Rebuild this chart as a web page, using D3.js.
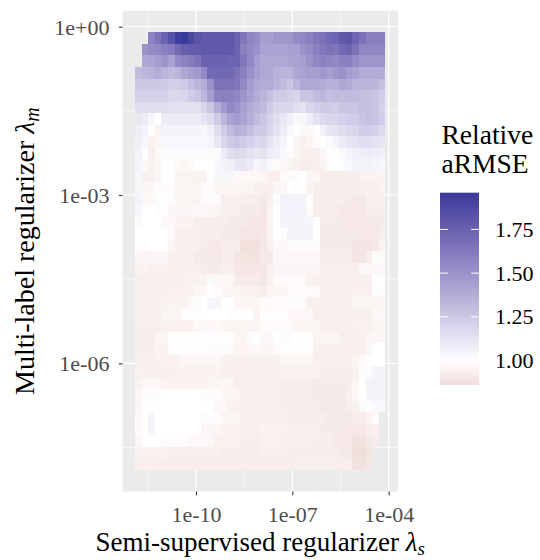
<!DOCTYPE html>
<html>
<head>
<meta charset="utf-8">
<script src="https://cdn.jsdelivr.net/npm/d3@7"></script>
<style>
  html, body { margin: 0; padding: 0; background: #ffffff; }
  svg text { font-family: "Liberation Serif", "Times New Roman", serif; }
</style>
</head>
<body>
<svg id="chart" width="540" height="560"></svg>
<script>
// log10 of the semi-supervised regularizer (columns, left to right)
const lambdaSExp = [-11.795,-11.590,-11.385,-11.179,-10.974,-10.769,-10.564,-10.359,-10.154,-9.949,
  -9.744,-9.538,-9.333,-9.128,-8.923,-8.718,-8.513,-8.308,-8.103,-7.897,
  -7.692,-7.487,-7.282,-7.077,-6.872,-6.667,-6.462,-6.256,-6.051,-5.846,
  -5.641,-5.436,-5.231,-5.026,-4.821,-4.615,-4.410,-4.205];

// log10 of the multi-label regularizer (rows, top to bottom)
const lambdaMExp = [-0.205,-0.410,-0.615,-0.821,-1.026,-1.231,-1.436,-1.641,-1.846,-2.051,
  -2.256,-2.462,-2.667,-2.872,-3.077,-3.282,-3.487,-3.692,-3.897,-4.103,
  -4.308,-4.513,-4.718,-4.923,-5.128,-5.333,-5.538,-5.744,-5.949,-6.154,
  -6.359,-6.564,-6.769,-6.974,-7.179,-7.385,-7.590,-7.795];

// Relative aRMSE, one array per lambda_m row (null = no run)
const relARMSE = [
  [null,null,1.58,1.66,1.74,1.83,1.93,1.96,1.89,1.82,1.79,1.79,1.79,1.79,1.79,1.74,1.64,1.56,1.52,1.44,1.44,1.48,1.48,1.48,1.53,1.56,1.59,1.63,1.66,1.71,1.73,1.79,1.81,1.73,1.66,1.59,1.59,1.59],
  [null,1.50,1.53,1.55,1.58,1.62,1.70,1.76,1.78,1.78,1.79,1.79,1.79,1.79,1.79,1.74,1.59,1.55,1.51,1.42,1.42,1.42,1.42,1.44,1.44,1.50,1.53,1.59,1.63,1.66,1.63,1.71,1.73,1.66,1.56,1.56,1.56,1.56],
  [null,1.40,1.42,1.45,1.49,1.43,1.55,1.58,1.61,1.66,1.74,1.74,1.74,1.74,1.73,1.73,1.63,1.55,1.45,1.40,1.40,1.40,1.40,1.42,1.42,1.44,1.50,1.55,1.59,1.56,1.55,1.58,1.59,1.53,1.48,1.48,1.48,1.48],
  [1.31,1.33,1.35,1.38,1.34,1.31,1.34,1.40,1.44,1.47,1.55,1.71,1.71,1.71,1.71,1.66,1.59,1.51,1.44,1.40,1.40,1.36,1.34,1.34,1.40,1.42,1.44,1.44,1.48,1.44,1.48,1.51,1.45,1.42,1.38,1.38,1.38,1.38],
  [1.25,1.25,1.25,1.25,1.24,1.21,1.23,1.24,1.28,1.33,1.38,1.51,1.66,1.66,1.66,1.63,1.55,1.45,1.40,1.38,1.38,1.34,1.31,1.26,1.33,1.40,1.40,1.40,1.38,1.36,1.36,1.40,1.38,1.34,1.33,1.33,1.33,1.29],
  [1.21,1.21,1.21,1.21,1.21,1.18,1.18,1.19,1.23,1.26,1.33,1.44,1.58,1.59,1.59,1.56,1.50,1.43,1.38,1.34,1.29,1.24,1.24,1.21,1.19,1.26,1.26,1.31,1.33,1.29,1.31,1.31,1.31,1.31,1.29,1.29,1.26,1.23],
  [1.15,1.15,1.15,1.15,1.15,1.14,1.14,1.14,1.14,1.14,1.19,1.26,1.38,1.47,1.55,1.51,1.44,1.38,1.34,1.31,1.24,1.19,1.19,1.19,1.15,1.13,1.19,1.21,1.24,1.24,1.23,1.26,1.26,1.26,1.29,1.29,1.26,1.21],
  [1.11,1.09,1.04,1.00,1.09,1.09,1.09,1.09,1.09,1.09,1.12,1.15,1.24,1.34,1.42,1.45,1.42,1.36,1.31,1.26,1.21,1.15,1.11,1.07,1.03,1.04,1.08,1.13,1.17,1.19,1.19,1.21,1.23,1.23,1.26,1.29,1.26,1.23],
  [1.08,1.05,1.00,0.955,1.05,1.05,1.05,1.05,1.05,1.05,1.04,1.07,1.15,1.24,1.31,1.36,1.34,1.29,1.24,1.24,1.19,1.13,1.09,1.03,0.996,0.968,0.972,0.998,1.07,1.11,1.13,1.15,1.17,1.19,1.23,1.23,1.21,1.17],
  [1.07,1.04,0.949,0.968,1.03,1.03,1.03,1.03,1.03,1.03,1.03,1.05,1.11,1.19,1.24,1.26,1.24,1.21,1.18,1.19,1.13,1.09,1.05,1.00,0.955,0.936,0.955,0.984,0.998,1.02,1.05,1.09,1.11,1.13,1.15,1.15,1.13,1.11],
  [1.06,1.00,0.936,0.977,1.02,1.02,1.02,1.02,1.02,1.02,1.02,1.02,1.02,1.09,1.15,1.17,1.15,1.13,1.11,1.13,1.09,1.07,1.03,0.99,0.959,0.936,0.932,0.94,0.968,0.998,1.01,1.03,1.05,1.07,1.08,1.09,1.08,1.07],
  [1.05,0.965,0.94,0.968,1.00,1.00,0.97,0.959,0.978,0.998,0.998,0.998,1.03,1.05,1.07,1.11,1.11,1.09,1.04,1.06,1.03,0.977,0.968,0.955,0.936,0.926,0.922,0.932,0.945,0.98,1.00,1.02,1.03,1.05,1.05,1.06,1.05,1.04],
  [1.04,0.936,0.936,0.968,1.00,1.00,0.955,0.955,0.955,0.945,0.945,1.00,1.04,1.04,1.04,0.97,0.97,0.97,0.97,0.963,0.932,0.932,0.98,0.98,0.98,1.00,0.963,0.963,0.927,0.927,0.927,0.927,0.927,0.927,0.949,0.949,0.949,0.949],
  [1.04,0.959,0.959,0.984,0.984,0.984,0.955,0.955,0.955,0.955,0.984,0.984,0.955,0.955,0.955,0.955,0.955,0.955,0.936,0.936,0.936,0.963,0.963,1.00,1.01,1.01,0.949,0.922,0.922,0.922,0.922,0.922,0.922,0.922,0.936,0.936,0.936,0.949],
  [1.05,0.972,0.972,0.993,0.993,0.993,0.959,0.959,0.959,0.949,0.984,0.984,0.984,0.936,0.936,0.936,0.936,0.927,0.927,0.904,0.936,0.993,1.06,1.06,1.06,1.06,1.01,0.927,0.927,0.927,0.927,0.927,0.912,0.912,0.912,0.932,0.932,0.932],
  [1.04,1.00,1.00,0.993,0.993,0.963,0.963,0.963,0.963,0.968,0.968,0.968,0.955,0.936,0.936,0.936,0.912,0.912,0.912,0.897,0.949,1.00,1.06,1.06,1.06,1.06,1.015,0.922,0.922,0.922,0.922,0.904,0.904,0.904,0.904,0.923,0.923,0.923],
  [1.02,1.00,1.00,1.00,0.972,0.972,0.949,0.949,0.949,0.922,0.922,0.922,0.923,0.923,0.912,0.912,0.912,0.90,0.90,0.90,0.955,1.00,1.05,1.05,1.05,1.05,1.05,0.998,0.916,0.916,0.916,0.916,0.904,0.904,0.904,0.912,0.912,0.912],
  [0.998,1.00,1.00,1.00,1.00,0.972,0.936,0.936,0.936,0.936,0.927,0.927,0.927,0.912,0.912,0.912,0.895,0.895,0.895,0.904,0.945,0.998,1.01,1.05,1.05,1.05,1.05,0.998,0.916,0.916,0.916,0.916,0.916,0.916,0.904,0.904,0.904,0.927],
  [0.993,0.993,1.00,1.00,1.00,0.963,0.936,0.936,0.936,0.936,0.916,0.916,0.904,0.922,0.922,0.922,0.87,0.87,0.875,0.904,0.936,0.972,0.972,1.015,1.015,1.015,1.015,0.98,0.916,0.916,0.916,0.916,0.916,0.89,0.89,0.89,0.912,0.949],
  [0.963,0.963,0.963,0.968,0.968,0.932,0.932,0.932,0.932,0.91,0.91,0.91,0.90,0.922,0.922,0.89,0.885,0.88,0.88,0.912,0.912,0.968,0.968,0.968,0.968,0.968,0.968,0.968,0.922,0.922,0.922,0.922,0.922,0.89,0.89,0.922,0.98,0.98],
  [0.949,0.949,0.94,0.94,0.94,0.94,0.932,0.932,0.932,0.932,0.916,0.916,0.916,0.936,0.936,0.904,0.90,0.895,0.90,0.904,0.936,0.963,0.963,0.963,0.963,0.963,0.963,0.963,0.932,0.932,0.932,0.932,0.932,0.932,0.972,0.972,0.972,0.972],
  [0.936,0.936,0.936,0.937,0.937,0.937,0.937,0.945,0.945,0.945,0.945,0.98,0.968,0.968,0.968,0.916,0.916,0.916,0.916,0.90,0.936,0.977,0.977,0.977,0.977,0.977,0.94,0.94,0.94,0.94,0.94,0.936,0.936,0.936,0.936,0.936,0.993,0.993],
  [0.932,0.932,0.932,0.932,0.94,0.94,0.94,0.94,0.94,0.972,0.972,1.00,0.984,0.959,0.959,0.959,0.94,0.94,0.94,0.922,0.959,0.959,0.959,0.977,0.977,0.977,0.977,0.977,0.932,0.932,0.932,0.932,0.932,0.94,0.94,0.94,0.984,0.984],
  [0.936,0.936,0.936,0.936,0.949,0.949,0.949,0.949,0.98,0.98,1.00,1.04,1.04,0.998,0.998,0.959,0.959,0.959,0.959,0.977,0.977,0.977,0.977,0.984,0.984,0.984,0.936,0.936,0.936,0.936,0.936,0.936,0.936,0.959,0.959,0.959,0.959,0.959],
  [0.936,0.936,0.936,0.936,0.959,0.959,0.959,0.993,0.993,0.993,1.00,1.00,1.00,1.00,0.993,0.993,0.993,0.993,0.949,0.993,0.993,0.993,0.993,0.972,0.972,0.972,0.972,0.932,0.932,0.932,0.932,0.932,0.932,0.936,0.936,0.936,0.968,0.968],
  [0.93,0.93,0.93,0.93,0.945,0.945,0.945,0.945,0.945,0.972,0.972,0.972,0.972,0.955,0.955,0.955,0.955,0.955,0.955,0.977,0.977,0.977,0.977,0.977,0.959,0.959,0.959,0.959,0.932,0.932,0.932,0.932,0.932,0.94,0.94,0.94,0.959,0.959],
  [0.922,0.922,0.922,0.959,0.959,0.998,0.998,0.998,0.998,0.998,0.998,0.99,0.99,0.99,0.99,0.959,0.959,0.984,0.998,0.972,0.972,0.998,1.02,1.02,0.998,0.998,0.998,0.959,0.959,0.959,0.959,0.936,0.936,0.936,0.936,0.963,0.963,0.963],
  [0.927,0.927,0.927,0.949,0.949,0.993,0.993,0.993,0.993,0.993,0.993,0.98,0.98,0.98,0.98,0.949,0.949,0.972,0.972,0.959,0.959,0.99,0.99,0.99,0.99,0.99,0.99,0.936,0.936,0.936,0.936,0.936,0.932,0.932,0.932,0.972,0.998,0.998],
  [0.936,0.936,0.936,0.945,0.945,0.945,0.945,0.968,0.968,0.968,0.968,0.968,0.968,0.94,0.94,0.94,0.94,0.94,0.94,0.94,0.94,0.94,0.959,0.959,0.959,0.959,0.959,0.932,0.932,0.932,0.932,0.932,0.932,0.949,0.977,0.998,0.998,0.998],
  [0.94,0.94,0.932,0.932,0.932,0.932,0.949,0.949,0.949,0.949,0.949,0.949,0.949,0.932,0.932,0.932,0.932,0.932,0.932,0.932,0.932,0.932,0.945,0.945,0.945,0.945,0.945,0.945,0.922,0.922,0.922,0.922,0.922,0.94,0.984,1.02,1.05,1.05],
  [0.949,0.972,0.972,0.972,0.949,0.949,0.949,0.949,0.949,0.949,0.949,0.959,0.959,0.959,0.959,0.932,0.932,0.932,0.932,0.932,0.932,0.932,0.922,0.922,0.922,0.922,0.922,0.916,0.916,0.916,0.916,0.916,0.922,0.959,0.998,1.05,1.06,1.05],
  [0.959,0.984,0.984,0.984,0.998,0.998,0.998,0.998,0.998,0.998,0.984,0.984,0.984,0.959,0.959,0.959,0.932,0.932,0.932,0.936,0.936,0.936,0.922,0.922,0.922,0.922,0.922,0.912,0.912,0.912,0.912,0.912,0.932,0.972,0.998,1.05,1.05,1.05],
  [0.963,0.998,0.998,1.00,1.00,1.00,1.00,1.00,0.998,0.998,0.998,0.998,0.972,0.972,0.94,0.94,0.94,0.94,0.94,0.936,0.936,0.936,0.927,0.927,0.927,0.927,0.927,0.927,0.912,0.912,0.912,0.912,0.922,0.94,0.98,1.01,1.03,1.03],
  [0.972,0.998,1.05,0.998,0.998,1.00,1.00,1.00,1.00,1.00,0.984,0.984,0.984,0.959,0.959,0.959,0.936,0.936,0.936,0.936,0.936,0.936,0.936,0.927,0.927,0.927,0.927,0.927,0.927,0.912,0.912,0.912,0.912,0.927,0.927,0.949,0.977,null],
  [0.977,0.998,1.05,0.998,0.998,0.998,1.00,1.00,1.00,1.00,0.963,0.963,0.963,0.949,0.949,0.949,0.932,0.932,0.932,0.945,0.945,0.945,0.945,0.932,0.932,0.932,0.932,0.932,0.916,0.916,0.916,0.916,0.904,0.904,0.904,0.922,0.94,null],
  [0.963,0.998,0.998,0.998,0.99,0.99,0.99,0.99,0.972,0.972,0.972,0.972,0.945,0.945,0.945,0.945,0.927,0.927,0.927,0.945,0.945,0.945,0.932,0.932,0.932,0.932,0.932,0.927,0.927,0.927,0.904,0.904,0.904,0.875,0.875,0.904,0.922,null],
  [0.94,0.94,0.94,0.94,0.94,0.936,0.936,0.936,0.936,0.936,0.936,0.936,0.936,0.922,0.922,0.922,0.922,0.922,0.922,0.932,0.932,0.932,0.932,0.927,0.927,0.927,0.927,0.927,0.922,0.922,0.922,0.912,0.912,0.865,0.86,0.89,null,null],
  [0.932,0.932,0.932,0.932,0.922,0.922,0.922,0.922,0.922,0.922,0.922,0.922,0.922,0.922,0.922,0.922,0.922,0.922,0.922,0.927,0.927,0.927,0.927,0.927,0.936,0.936,0.936,0.936,0.936,0.936,0.922,0.922,0.922,0.875,0.875,0.895,null,null]
];

// axis breaks and their labels
const xBreaks = [1e-10, 1e-7, 1e-4];
const xBreakLabels = ["1e-10", "1e-07", "1e-04"];
const xMinorBreaks = [Math.pow(10, -11.5), Math.pow(10, -8.5), Math.pow(10, -5.5)];
const yBreaks = [1, 1e-3, 1e-6];
const yBreakLabels = ["1e+00", "1e-03", "1e-06"];
const yMinorBreaks = [Math.pow(10, -1.5), Math.pow(10, -4.5), Math.pow(10, -7.5)];

// legend breaks
const legendBreaks = [1.00, 1.25, 1.50, 1.75];
const legendBreakLabels = ["1.00", "1.25", "1.50", "1.75"];

const svg = d3.select("#chart");
const panel = { left: 122.5, right: 397.9, top: 10.6, bottom: 491.6 };

// tile boundaries in log space: halfway between neighbouring grid values
function edges(centres) {
  const n = centres.length;
  const e = [centres[0] - (centres[1] - centres[0]) / 2];
  for (let i = 1; i < n; i++) e.push((centres[i - 1] + centres[i]) / 2);
  e.push(centres[n - 1] + (centres[n - 1] - centres[n - 2]) / 2);
  return e;
}
const xEdges = edges(lambdaSExp);   // increasing
const yEdges = edges(lambdaMExp);   // decreasing (top to bottom)

const xLo = xEdges[0], xHi = xEdges[xEdges.length - 1];
const yHi = yEdges[0], yLo = yEdges[yEdges.length - 1];
const padX = (xHi - xLo) * 0.05, padY = (yHi - yLo) * 0.05;

const x = d3.scaleLog()
  .domain([Math.pow(10, xLo - padX), Math.pow(10, xHi + padX)])
  .range([panel.left, panel.right]);
const y = d3.scaleLog()
  .domain([Math.pow(10, yLo - padY), Math.pow(10, yHi + padY)])
  .range([panel.bottom, panel.top]);

// diverging fill: muted red -> white -> muted blue, centred on 1
const allVals = relARMSE.flat().filter(v => v !== null);
const [vMin, vMax] = d3.extent(allVals);
const mid = 1;
const halfSpan = Math.max(Math.abs(vMin - mid), Math.abs(vMax - mid));
const lowPal = d3.interpolateLab("#ffffff", "#832424");
const highPal = d3.interpolateLab("#ffffff", "#3A3A98");
function fill(v) {
  const t = (v - mid) / halfSpan;
  return t >= 0 ? highPal(Math.min(1, t)) : lowPal(Math.min(1, -t));
}

// panel background and grid
svg.append("rect")
  .attr("x", panel.left).attr("y", panel.top)
  .attr("width", panel.right - panel.left).attr("height", panel.bottom - panel.top)
  .attr("fill", "#EBEBEB");

const grid = svg.append("g");
grid.selectAll("line.xminor").data(xMinorBreaks).join("line")
  .attr("x1", d => x(d)).attr("x2", d => x(d))
  .attr("y1", panel.top).attr("y2", panel.bottom)
  .attr("stroke", "#ffffff").attr("stroke-width", 0.6);
grid.selectAll("line.yminor").data(yMinorBreaks).join("line")
  .attr("y1", d => y(d)).attr("y2", d => y(d))
  .attr("x1", panel.left).attr("x2", panel.right)
  .attr("stroke", "#ffffff").attr("stroke-width", 0.6);
grid.selectAll("line.xmajor").data(xBreaks).join("line")
  .attr("x1", d => x(d)).attr("x2", d => x(d))
  .attr("y1", panel.top).attr("y2", panel.bottom)
  .attr("stroke", "#ffffff").attr("stroke-width", 1.2);
grid.selectAll("line.ymajor").data(yBreaks).join("line")
  .attr("y1", d => y(d)).attr("y2", d => y(d))
  .attr("x1", panel.left).attr("x2", panel.right)
  .attr("stroke", "#ffffff").attr("stroke-width", 1.2);

// heatmap tiles, edges snapped to whole pixels so neighbours meet exactly
const cells = [];
relARMSE.forEach((row, r) => row.forEach((v, c) => {
  if (v !== null) cells.push({ r, c, v });
}));
const px = e => Math.round(x(Math.pow(10, e)));
const py = e => Math.round(y(Math.pow(10, e)));
svg.append("g").attr("shape-rendering", "crispEdges")
  .selectAll("rect").data(cells).join("rect")
  .attr("x", d => px(xEdges[d.c]))
  .attr("width", d => px(xEdges[d.c + 1]) - px(xEdges[d.c]))
  .attr("y", d => py(yEdges[d.r]))
  .attr("height", d => py(yEdges[d.r + 1]) - py(yEdges[d.r]))
  .attr("fill", d => fill(d.v));

// axes
const xAxis = d3.axisBottom(x).tickValues(xBreaks)
  .tickFormat((d, i) => xBreakLabels[i]).tickSize(3.6).tickPadding(11);
const yAxis = d3.axisLeft(y).tickValues(yBreaks)
  .tickFormat((d, i) => yBreakLabels[i]).tickSize(3.6).tickPadding(9.5);

const gx = svg.append("g").attr("transform", `translate(0,${panel.bottom})`).call(xAxis);
const gy = svg.append("g").attr("transform", `translate(${panel.left},0)`).call(yAxis);
[gx, gy].forEach(g => {
  g.select(".domain").remove();
  g.selectAll(".tick line").attr("stroke", "#333333").attr("stroke-width", 1.1);
  g.selectAll(".tick text")
    .attr("fill", "#4D4D4D")
    .style("font-family", "'Liberation Serif', 'Times New Roman', serif")
    .style("font-size", "22px");
});
gy.selectAll(".tick text").attr("dy", "0.34em");

// axis titles
const xTitle = svg.append("text")
  .attr("x", (panel.left + panel.right) / 2).attr("y", 551)
  .attr("text-anchor", "middle").attr("fill", "#000")
  .style("font-size", "27px");
xTitle.append("tspan").text("Semi-supervised regularizer ");
xTitle.append("tspan").style("font-style", "italic").text("λ");
xTitle.append("tspan").style("font-style", "italic").style("font-size", "19px")
  .attr("dy", 4).text("s");

const yTitle = svg.append("text")
  .attr("transform", `translate(34,${(panel.top + panel.bottom) / 2}) rotate(-90)`)
  .attr("text-anchor", "middle").attr("fill", "#000")
  .style("font-size", "28px");
yTitle.append("tspan").text("Multi-label regularizer ");
yTitle.append("tspan").style("font-style", "italic").text("λ");
yTitle.append("tspan").style("font-style", "italic").style("font-size", "20px")
  .attr("dy", 5).text("m");

// colour bar legend
const bar = { x: 440, y0: 192.7, y1: 385, w: 39 };
const ly = d3.scaleLinear().domain([vMin, vMax]).range([bar.y1, bar.y0]);
const defs = svg.append("defs");
const grad = defs.append("linearGradient").attr("id", "fillbar")
  .attr("x1", 0).attr("y1", 1).attr("x2", 0).attr("y2", 0);
const nStops = 60;
grad.selectAll("stop").data(d3.range(nStops + 1)).join("stop")
  .attr("offset", i => i / nStops)
  .attr("stop-color", i => fill(vMin + (vMax - vMin) * i / nStops));
svg.append("rect")
  .attr("x", bar.x).attr("y", bar.y0).attr("width", bar.w).attr("height", bar.y1 - bar.y0)
  .attr("fill", "url(#fillbar)");

const lg = svg.append("g");
lg.selectAll("line.l").data(legendBreaks).join("line")
  .attr("x1", bar.x).attr("x2", bar.x + bar.w / 5)
  .attr("y1", d => ly(d)).attr("y2", d => ly(d))
  .attr("stroke", "#ffffff").attr("stroke-width", 1);
lg.selectAll("line.r").data(legendBreaks).join("line")
  .attr("x1", bar.x + bar.w * 4 / 5).attr("x2", bar.x + bar.w)
  .attr("y1", d => ly(d)).attr("y2", d => ly(d))
  .attr("stroke", "#ffffff").attr("stroke-width", 1);
lg.selectAll("text").data(legendBreaks).join("text")
  .attr("x", 495).attr("y", d => ly(d)).attr("dy", "0.34em")
  .attr("fill", "#000").style("font-size", "22px")
  .text((d, i) => legendBreakLabels[i]);

svg.append("text").attr("x", 441.5).attr("y", 143.5)
  .attr("fill", "#000").style("font-size", "27.5px").text("Relative");
svg.append("text").attr("x", 441.5).attr("y", 173.3)
  .attr("fill", "#000").style("font-size", "27.5px").text("aRMSE");
</script>
</body>
</html>
